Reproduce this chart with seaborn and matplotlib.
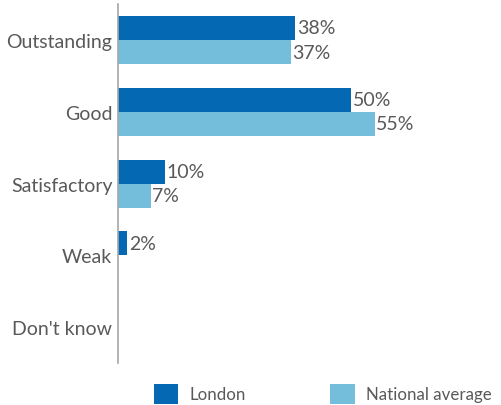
import matplotlib
matplotlib.use("Agg")
import matplotlib.pyplot as plt
import seaborn as sns
import pandas as pd
from matplotlib.patches import Patch

categories = ["Outstanding", "Good", "Satisfactory", "Weak", "Don't know"]
series = ["London", "National average"]
london = [38, 50, 10, 2, 0]
national = [37, 55, 7, 0, 0]

colors = ["#0568b3", "#74bedc"]
text_color = "#595959"

df = pd.DataFrame({
    "category": categories * 2,
    "series": [series[0]] * len(categories) + [series[1]] * len(categories),
    "value": london + national,
})

sns.set_theme(style="white")
plt.rcParams["font.family"] = ["Lato", "DejaVu Sans"]

fig = plt.figure(figsize=(5.01, 4.06), dpi=100)
ax = fig.add_axes([0.2355, 0.1034, 0.745, 0.884])

sns.barplot(data=df, y="category", x="value", hue="series", order=categories,
            hue_order=series, palette=colors, orient="h", width=0.67,
            saturation=1, linewidth=0, ax=ax, legend=False)

for cont in ax.containers:
    labels = [f"{int(round(v))}%" if v > 0 else "" for v in cont.datavalues]
    ax.bar_label(cont, labels=labels, padding=1, fontsize=14, color=text_color)

ax.set_xlim(0, 80)
ax.set_ylim(len(categories) - 0.5, -0.5)
ax.set_xlabel("")
ax.set_ylabel("")
ax.set_xticks([])
for s in ["top", "right", "bottom"]:
    ax.spines[s].set_visible(False)
ax.spines["left"].set_color("#a6a6a6")
ax.spines["left"].set_linewidth(1.2)
ax.tick_params(axis="y", length=0, pad=4, labelsize=14, labelcolor=text_color)

handles = [Patch(facecolor=c, edgecolor="none") for c in colors]
fig.legend(handles, series, loc="lower left", bbox_to_anchor=(0.307, 0.003), ncol=2,
           frameon=False, fontsize=12.2, labelcolor=text_color,
           borderpad=0, borderaxespad=0,
           handlelength=1.45, handleheight=1.45, handletextpad=0.65, columnspacing=5.0)

fig.savefig("out.png", dpi=100)
